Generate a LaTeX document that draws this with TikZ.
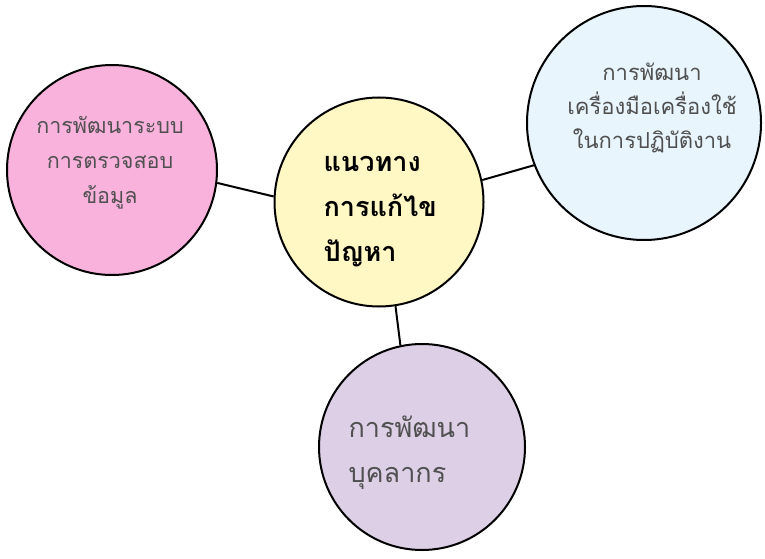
\documentclass[tikz,border=0pt]{standalone}
\usepackage{fontspec}
\newfontfamily\thaifont[Script=Thai]{Loma}
\definecolor{pinkfill}{RGB}{248,178,220}
\definecolor{yellowfill}{RGB}{255,247,196}
\definecolor{bluefill}{RGB}{232,245,253}
\definecolor{purplefill}{RGB}{221,207,229}
\definecolor{textgray}{RGB}{80,80,80}
\begin{document}
\begin{tikzpicture}[x=1pt,y=-1pt]
    \tikzstyle{bubble}=[circle, draw=black, line width=2pt, inner sep=0pt]
    \tikzstyle{every node}+=[font=\thaifont]
    \useasboundingbox (0,0) rectangle (765,559);
    \node [bubble, fill=pinkfill, minimum size=210pt] (pink) at (112,170) {};
    \node [bubble, fill=yellowfill, minimum size=209pt] (core) at (379,202) {};
    \node [bubble, fill=bluefill, minimum size=234pt] (blue) at (644,123) {};
    \node [bubble, fill=purplefill, minimum size=206pt] (purple) at (422,447) {};
    \draw [black, line width=2pt] (core.177) -- (pink.-7);
    \draw [black, line width=2pt] (core.12) -- (blue.-159);
    \draw [black, line width=2pt] (core.-81) -- (purple.102);
    \node [align=center, text=textgray, font=\thaifont\fontsize{21.5}{35}\selectfont] (pinktext) at (110,163) {การพัฒนาระบบ\\การตรวจสอบ\\ข้อมูล};
    \node [align=left, anchor=west, text=black, font=\thaifont\bfseries\fontsize{27}{45}\selectfont] (coretext) at (320,212) {แนวทาง\\การแก้ไข\\ปัญหา};
    \node [align=center, text=textgray, font=\thaifont\fontsize{22}{34}\selectfont] (bluetext) at (652,108) {การพัฒนา\\เครื่องมือเครื่องใช้\\ในการปฏิบัติงาน};
    \node [align=left, anchor=west, text=textgray, font=\thaifont\fontsize{27}{45}\selectfont] (purpletext) at (345,453) {การพัฒนา\\บุคลากร};
\end{tikzpicture}
\end{document}
